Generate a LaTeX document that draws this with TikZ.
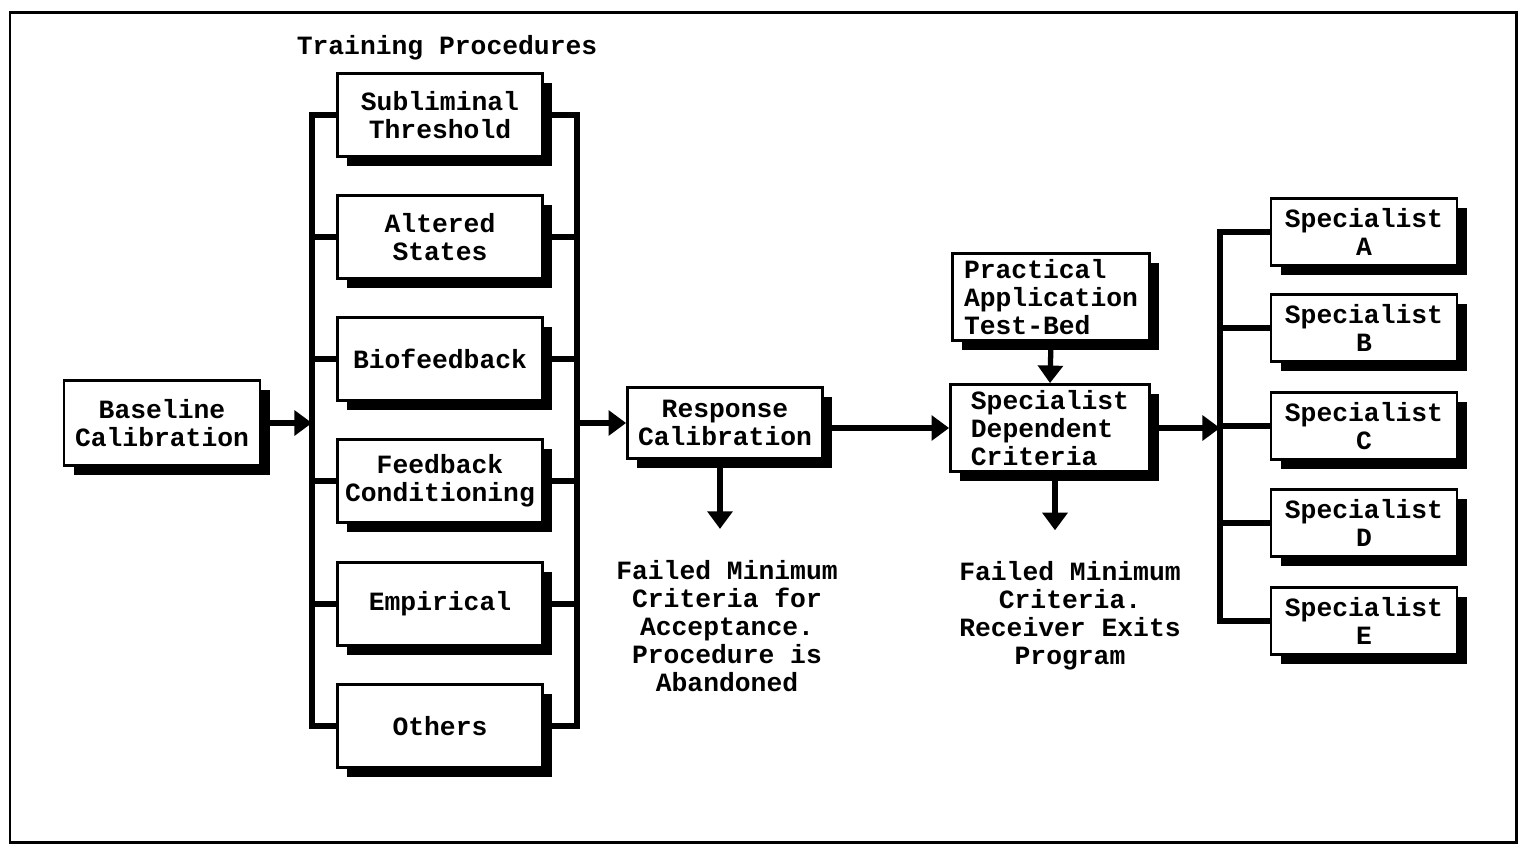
\documentclass[tikz,border=0pt]{standalone}
\usepackage{fontspec}
\setmonofont{Liberation Mono}
\usetikzlibrary{shadows, arrows.meta}

\tikzset{
  box/.style = {draw, line width = 1.6pt, fill = white, align = center, inner sep = 0pt,
    font = \ttfamily\bfseries\fontsize{15}{16}\selectfont,
    drop shadow = {shadow xshift = 5.5pt, shadow yshift = -5.5pt, fill = black, opacity = 1}},
  note/.style = {align = center, font = \ttfamily\bfseries\fontsize{15}{16}\selectfont},
  bus/.style = {line width = 3pt},
  flow/.style = {line width = 3pt, -{Triangle[length = 10pt, width = 14pt]}},
}

\begin{document}
\begin{tikzpicture}[x = 0.02cm, y = -0.02cm]
  \useasboundingbox (0,0) rectangle (1526,850);
  \draw [line width = 1.7pt] (10,12) rectangle (1516,842);

  \node [note] (title) at (447,48) {Training Procedures};

  \foreach \n/\y/\t in {1/115/{Subliminal\\Threshold}, 2/237/{Altered\\States}, 3/359/{Biofeedback},
      4/481/{Feedback\\Conditioning}, 5/604/{Empirical}, 6/726/{Others}}{
      \node [box, minimum width = 4.1cm, minimum height = 1.66cm] (tp\n) at (440,\y) {\t};
    }

  \node [box, minimum width = 3.92cm, minimum height = 1.7cm] (base) at (162,423) {Baseline\\Calibration};
  \coordinate (lbus) at (312,423);
  \coordinate (rbus) at (577,423);

  \draw [bus] (tp1.west) -| (lbus) |- (tp6.west);
  \draw [bus] (tp1.east) -| (rbus) |- (tp6.east);
  \foreach \n in {2,3,4,5}{
      \draw [bus] (tp\n.west) -- (tp\n.west -| lbus);
      \draw [bus] (tp\n.east) -- (tp\n.east -| rbus);
    }
  \draw [flow] (base.east) -- (lbus);

  \node [box, minimum width = 3.9cm, minimum height = 1.42cm] (resp) at (725,423) {Response\\Calibration};
  \draw [flow] (rbus) -- (resp.west);

  \node [note] (fail1) at (727,626) {Failed Minimum\\Criteria for\\Acceptance.\\Procedure is\\Abandoned};
  \draw [flow, shorten > = 0.5cm] (resp.south -| 720,0) -- (fail1.north -| 720,0);

  \node [box, align = left, minimum width = 3.95cm, minimum height = 1.74cm] (prac) at (1051,297) {Practical\\Application\\Test-Bed};
  \node [box, align = left, minimum width = 3.98cm, minimum height = 1.74cm] (crit) at (1050,428) {Specialist\\Dependent\\Criteria};
  \draw [flow] (prac.south) -- (crit.north);
  \draw [flow] (resp.east |- crit) -- (crit.west);

  \node [note] (fail2) at (1070,616) {Failed Minimum\\Criteria.\\Receiver Exits\\Program};
  \draw [flow, shorten > = 0.5cm] (crit.south -| 1055,0) -- (fail2.north -| 1055,0);

  \foreach \s/\y in {A/232, B/328, C/426, D/523, E/621}{
      \node [box, minimum width = 3.72cm, minimum height = 1.34cm] (spec\s) at (1364,\y) {Specialist\\\s};
    }
  \coordinate (sbus) at (1220,428);
  \draw [bus] (specA.west) -| (sbus) |- (specE.west);
  \foreach \s in {B,C,D}{
      \draw [bus] (spec\s.west) -- (spec\s.west -| sbus);
    }
  \draw [flow] (crit.east) -- (sbus);
\end{tikzpicture}
\end{document}
